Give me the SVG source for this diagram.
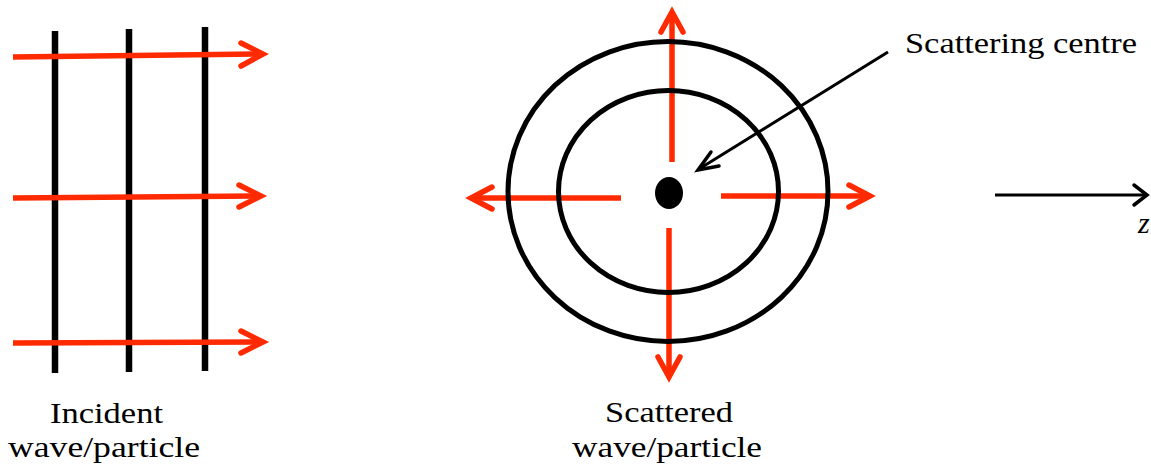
<svg xmlns="http://www.w3.org/2000/svg" width="1151" height="464" viewBox="0 0 1151 464">
<style>
.wave{stroke:#000;stroke-width:6.5;fill:none}
.ray{stroke:#ff2a00;stroke-width:5.5;fill:none}
.head{stroke:#ff2a00;stroke-width:5.5;fill:none;stroke-linecap:round;stroke-linejoin:miter}
.ring{stroke:#000;stroke-width:5;fill:none}
.thin{stroke:#000;stroke-width:3;fill:none}
.thinhead{stroke:#000;stroke-width:3.5;fill:none;stroke-linecap:round}
text{font-family:"Liberation Serif","DejaVu Serif",serif;font-size:30px;fill:#000}
</style>
<rect width="1151" height="464" fill="#fff"/>
<g id="incident">
  <line class="wave" x1="55" y1="31" x2="55" y2="373"/>
  <line class="wave" x1="129" y1="29" x2="129" y2="372"/>
  <line class="wave" x1="205" y1="27" x2="205" y2="371"/>
</g>
<g id="connectors">
  <line class="ray" x1="13" y1="57" x2="263" y2="54"/>
  <polyline class="head" points="241,43 263,54 241,66"/>
  <line class="ray" x1="13" y1="198" x2="261" y2="196"/>
  <polyline class="head" points="239,185 261,196 239,207"/>
  <line class="ray" x1="13" y1="343" x2="263" y2="342"/>
  <polyline class="head" points="241,331 263,342 241,353"/>

  <line class="ray" x1="672" y1="162" x2="672" y2="12"/>
  <polyline class="head" points="661,32 672,12 683,32"/>
  <line class="ray" x1="669" y1="228" x2="669" y2="377"/>
  <polyline class="head" points="658,357 669,377 680,357"/>
  <line class="ray" x1="621" y1="198" x2="471" y2="198"/>
  <polyline class="head" points="492,187 471,198 492,209"/>
  <line class="ray" x1="721" y1="196" x2="870" y2="196"/>
  <polyline class="head" points="849,185 870,196 849,207"/>

  <line class="thin" x1="888" y1="52" x2="699" y2="169"/>
  <polyline class="thinhead" points="711,152 698,170 719,166"/>

  <line class="thin" x1="995" y1="195" x2="1146" y2="195"/>
  <polyline class="thinhead" points="1134,185 1147,195 1134,205"/>
</g>
<g id="scatter">
  <ellipse class="ring" cx="668" cy="191.5" rx="160" ry="150"/>
  <ellipse class="ring" cx="668.5" cy="191.5" rx="110" ry="101"/>
  <ellipse cx="669" cy="193" rx="14" ry="16" fill="#000"/>
</g>
<g id="labels">
  <text x="905" y="53" textLength="232" lengthAdjust="spacingAndGlyphs">Scattering centre</text>
  <text x="1138" y="233" font-style="italic">z</text>
  <text x="50" y="423" textLength="113" lengthAdjust="spacingAndGlyphs">Incident</text>
  <text x="8" y="457" textLength="192" lengthAdjust="spacingAndGlyphs">wave/particle</text>
  <text x="605" y="422" textLength="128" lengthAdjust="spacingAndGlyphs">Scattered</text>
  <text x="572" y="457" textLength="190" lengthAdjust="spacingAndGlyphs">wave/particle</text>
</g>
</svg>
